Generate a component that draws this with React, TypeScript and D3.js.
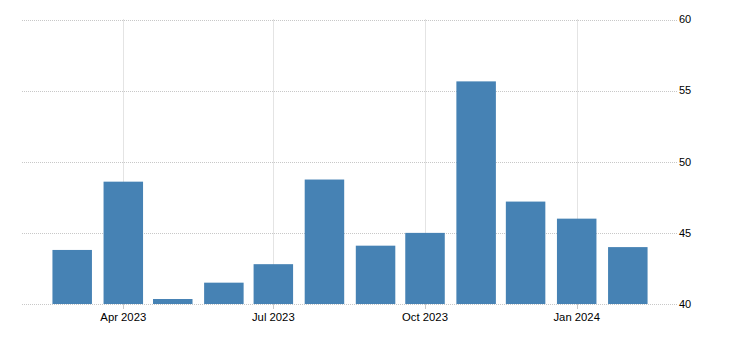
import React from "react";
import * as d3 from "d3";

const months = ["2023-03-01","2023-04-01","2023-05-01","2023-06-01","2023-07-01","2023-08-01","2023-09-01","2023-10-01","2023-11-01","2023-12-01","2024-01-01","2024-02-01"];
const values = [43.8, 48.6, 40.35, 41.5, 42.8, 48.75, 44.1, 45.0, 55.65, 47.2, 46.0, 44.0];
const yTicks = [40, 45, 50, 55, 60];
const xTickDates = ["2023-04-01","2023-07-01","2023-10-01","2024-01-01"];
const xTickLabels = ["Apr 2023","Jul 2023","Oct 2023","Jan 2024"];

const W = 731, H = 350;
const plotLeft = 22, plotRight = 677;

export default function App() {
  const parse = d3.utcParse("%Y-%m-%d");
  const x = d3.scaleUtc()
    .domain([parse("2023-04-01")!, parse("2024-01-01")!])
    .range([123.3, 576.7]);
  const y = d3.scaleLinear().domain([40, 60]).range([304, 19.5]);
  const barW = 39.5;
  const font = "'Liberation Sans', Arial, sans-serif";
  const grid = "#c8c8c8";
  return (
    <svg width={W} height={H} style={{ position: "absolute", left: 0, top: 0, display: "block" }}>
      <rect width={W} height={H} fill="#fff" />
      {yTicks.map((t) => (
        <line key={"gy" + t} x1={plotLeft} x2={plotRight} y1={Math.round(y(t)) + 0.5} y2={Math.round(y(t)) + 0.5}
          stroke={grid} strokeWidth={1} strokeDasharray="1,1" />
      ))}
      {xTickDates.map((d) => {
        const xx = Math.round(x(parse(d)!)) + 0.5;
        return (
          <g key={"gx" + d}>
            <line x1={xx} x2={xx} y1={y(60)} y2={y(40)} stroke={grid} strokeWidth={1} strokeDasharray="1,1" />
            <line x1={xx} x2={xx} y1={y(40)} y2={y(40) + 5} stroke={grid} strokeWidth={1} />
          </g>
        );
      })}
      {months.map((m, i) => {
        const cx = x(parse(m)!);
        return (
          <rect key={m} x={cx - barW / 2} y={y(values[i])} width={barW} height={y(40) - y(values[i])} fill="#4682b4" />
        );
      })}
      {yTicks.map((t) => (
        <text key={"ty" + t} x={679} y={y(t)} dy="0.35em" fontFamily={font} fontSize={11} fill="#000">{t}</text>
      ))}
      {xTickDates.map((d, i) => (
        <text key={"tx" + d} x={x(parse(d)!)} y={317} dy="0.35em" textAnchor="middle" fontFamily={font} fontSize={11.3} fill="#000">{xTickLabels[i]}</text>
      ))}
    </svg>
  );
}
